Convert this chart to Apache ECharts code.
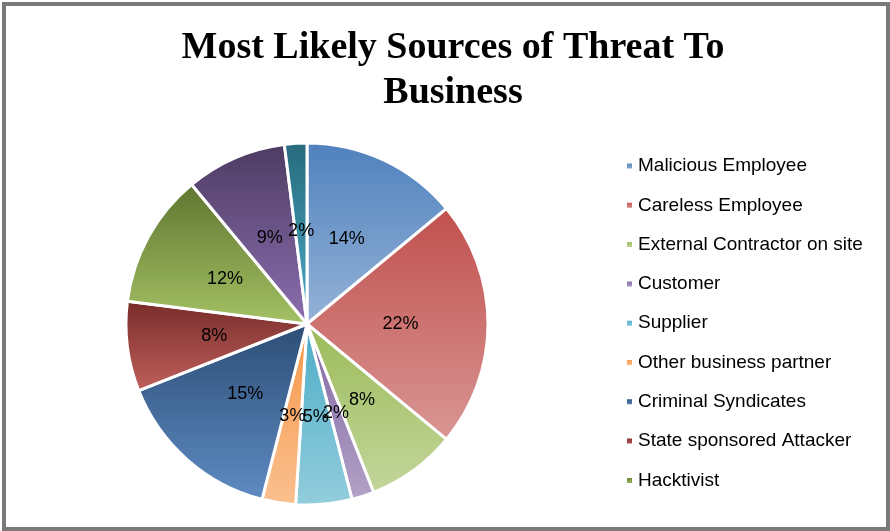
<!DOCTYPE html>
<html>
<head>
<meta charset="utf-8">
<script src="https://cdn.jsdelivr.net/npm/echarts@6/dist/echarts.min.js"></script>
<style>
  html, body { margin: 0; padding: 0; background: #fff; }
  #div-chart { width: 890px; height: 531px; }
</style>
</head>
<body>
<div id="div-chart"></div>
<script>
var myChart = echarts.init(document.getElementById('div-chart'));

// slice names (the last two are not shown in the legend, it is cut off)
var names = ['Malicious Employee', 'Careless Employee', 'External Contractor on site',
    'Customer', 'Supplier', 'Other business partner', 'Criminal Syndicates',
    'State sponsored Attacker', 'Hacktivist', 'Terrorist', 'Other'];
var values = [14, 22, 8, 2, 5, 3, 15, 8, 12, 9, 2];
// top / bottom colour of each slice gradient
var topColors = ['#4f81bd', '#c0504d', '#9bbb59', '#8064a2', '#4bacc6', '#f79646',
    '#2c4d75', '#772c2a', '#5f7530', '#4d3b62', '#276a7c'];
var bottomColors = ['#95b3d7', '#d99694', '#c3d69b', '#b3a2c7', '#93cddd', '#fac090',
    '#5f8cc4', '#c0605c', '#a4c264', '#8c6fb0', '#4bacc6'];

var pieData = names.map(function (n, i) {
    return {
        name: n,
        value: values[i],
        itemStyle: {
            color: new echarts.graphic.LinearGradient(0, 0, 0, 1, [
                {offset: 0, color: topColors[i]},
                {offset: 1, color: bottomColors[i]}
            ])
        }
    };
});

option = {
    animation: false,
    color: topColors,
    title : {
        text: 'Most Likely Sources of Threat To\nBusiness',
        left: 448,
        textAlign: 'center',
        top: 21,
        textStyle: {
            fontFamily: 'Liberation Serif',
            fontWeight: 'bold',
            fontSize: 38,
            lineHeight: 45,
            color: '#000'
        }
    },
    legend: {
        orient: 'vertical',
        left: 620,
        top: 151,
        data: names.slice(0, 9),
        icon: 'rect',
        itemWidth: 7,
        itemHeight: 7,
        itemGap: 19.3,
        textStyle: {
            fontFamily: 'Liberation Sans',
            fontSize: 19,
            lineHeight: 20,
            color: '#000'
        }
    },
    graphic: [{
        type: 'rect',
        shape: {x: 4, y: 4, width: 884, height: 525},
        style: {fill: 'none', stroke: '#7a7a7a', lineWidth: 4},
        silent: true
    }],
    series : [
        {
            name: 'Threat',
            type: 'pie',
            center: [307, 324],
            radius: [0, 181],
            startAngle: 90,
            clockwise: true,
            avoidLabelOverlap: false,
            itemStyle: {borderColor: '#fff', borderWidth: 3},
            label: {
                show: true,
                position: 'inside',
                formatter: '{d}%',
                fontFamily: 'Liberation Sans',
                fontSize: 18,
                color: '#000',
                padding: [4, 0, 0, 0]
            },
            labelLayout: {hideOverlap: false},
            labelLine: {show: false},
            emphasis: {disabled: true},
            data: pieData
        }
    ]
};

myChart.setOption(option);
</script>
</body>
</html>
